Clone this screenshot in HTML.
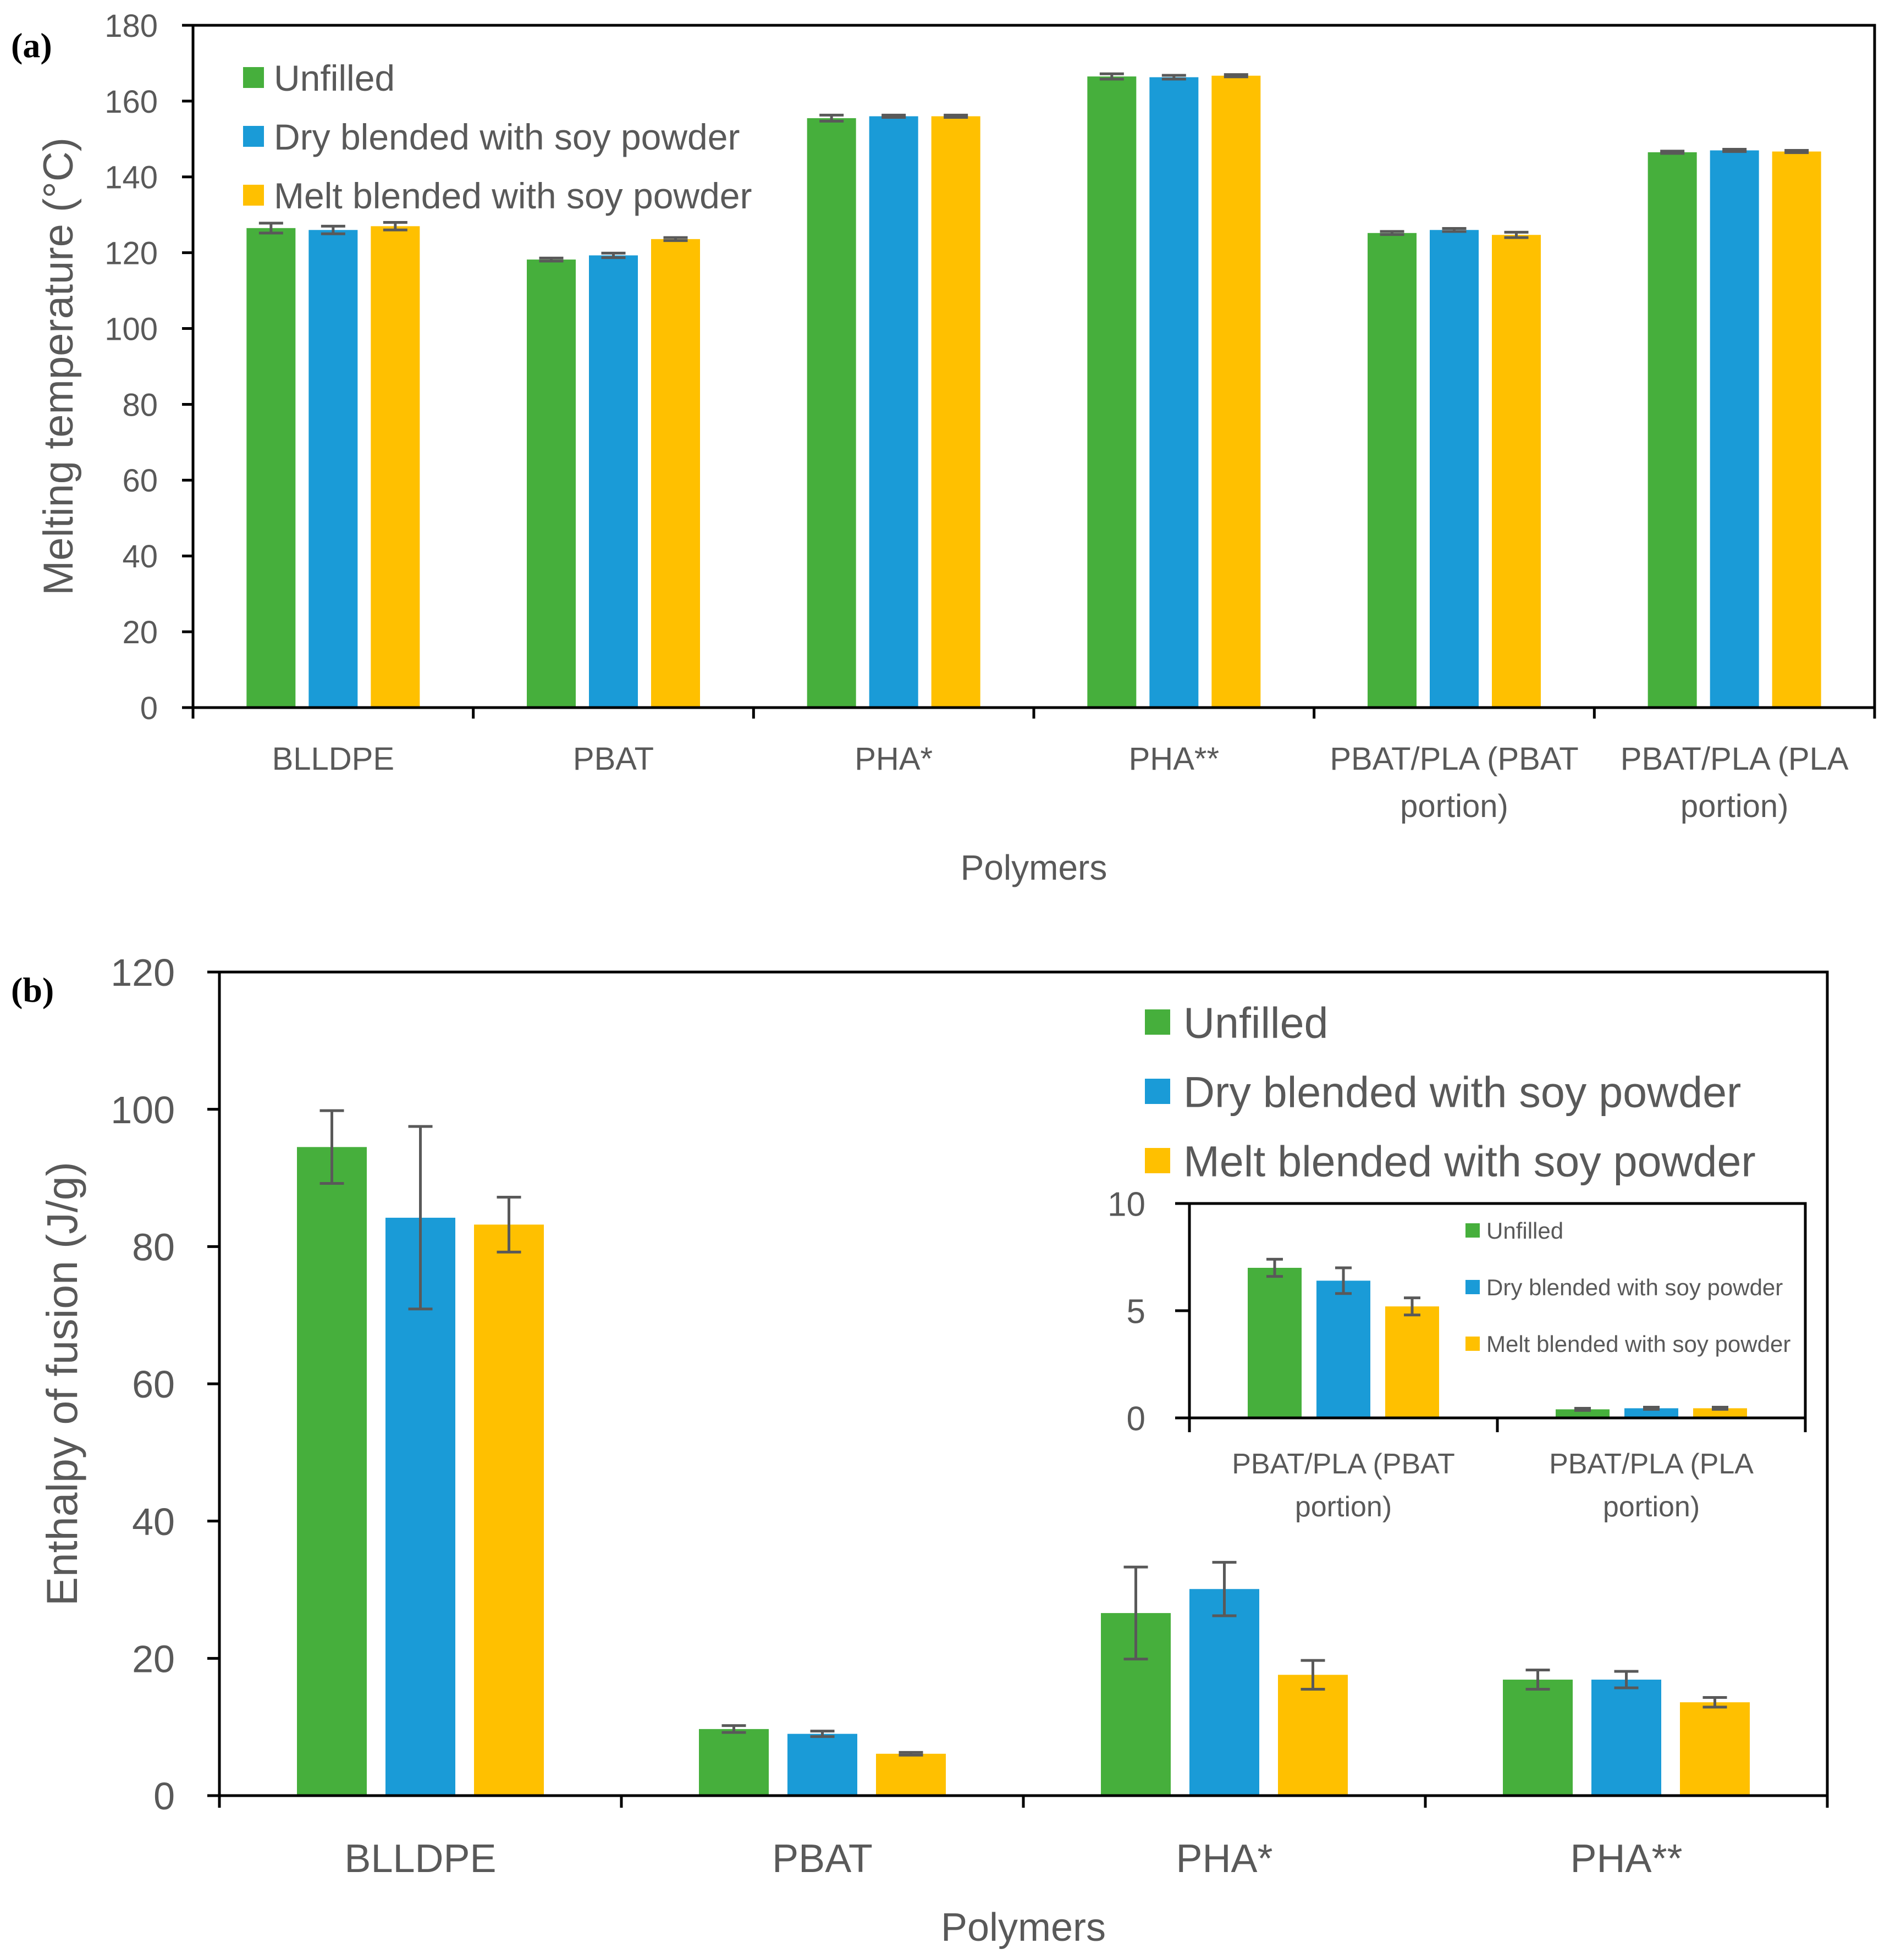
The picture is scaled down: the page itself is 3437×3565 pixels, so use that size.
<!DOCTYPE html>
<html><head><meta charset="utf-8"><style>
html,body{margin:0;padding:0;background:#fff}
svg{display:block}
text{font-family:"Liberation Sans",sans-serif;fill:#595959}
</style></head><body>
<svg id="fig" width="3437" height="3565" viewBox="0 0 3437 3565" xmlns="http://www.w3.org/2000/svg">
<rect width="3437" height="3565" fill="#fff"/>
<text x="20" y="104" style="font-family:'Liberation Serif',serif;font-weight:bold;font-size:64px;fill:#000">(a)</text>
<text x="20" y="1822" style="font-family:'Liberation Serif',serif;font-weight:bold;font-size:64px;fill:#000">(b)</text>
<g id="ga"></g><g id="gb"></g><g id="gi"></g>
</svg>
<script>
const seriesNames = ["Unfilled","Dry blended with soy powder","Melt blended with soy powder"];
const colors = ["#46AF3C","#1A9BD7","#FFC000"];
// Panel a
const catsA = [["BLLDPE"],["PBAT"],["PHA*"],["PHA**"],["PBAT/PLA  (PBAT","portion)"],["PBAT/PLA  (PLA","portion)"]];
const unfilledA = [126.5,118.2,155.5,166.5,125.2,146.5];
const dryA = [126.0,119.3,156.0,166.3,126.0,147.0];
const meltA = [127.0,123.6,156.0,166.7,124.7,146.7];
const errUnfilledA = [1.3,0.4,0.8,0.7,0.4,0.3];
const errDryA = [1.0,0.6,0.3,0.5,0.4,0.3];
const errMeltA = [1.0,0.4,0.3,0.3,0.7,0.3];
const ticksA = [0,20,40,60,80,100,120,140,160,180];
// Panel b
const catsB = ["BLLDPE","PBAT","PHA*","PHA**"];
const unfilledB = [94.5,9.7,26.6,16.9];
const dryB = [84.2,9.0,30.1,16.9];
const meltB = [83.2,6.1,17.6,13.6];
const errUnfilledB = [5.3,0.5,6.7,1.4];
const errDryB = [13.3,0.4,3.9,1.2];
const errMeltB = [4.0,0.2,2.1,0.7];
const ticksB = [0,20,40,60,80,100,120];
// Inset
const catsI = [["PBAT/PLA   (PBAT","portion)"],["PBAT/PLA   (PLA","portion)"]];
const unfilledI = [7.0,0.4];
const dryI = [6.4,0.45];
const meltI = [5.2,0.45];
const errUnfilledI = [0.4,0.05];
const errDryI = [0.6,0.05];
const errMeltI = [0.4,0.05];
const ticksI = [0,5,10];

const NS="http://www.w3.org/2000/svg";
function mk(parent,tag,attrs,txt){const e=document.createElementNS(NS,tag);for(const k in attrs)e.setAttribute(k,attrs[k]);if(txt!==undefined)e.textContent=txt;parent.appendChild(e);return e;}

function chart(g,o){
  const y=v=>o.y0-(v-o.min)/(o.max-o.min)*(o.y0-o.y1);
  const cw=(o.x1-o.x0)/o.cats.length;
  const series=[o.s0,o.s1,o.s2], errs=[o.e0,o.e1,o.e2];
  o.cats.forEach((c,i)=>{
    const cx=o.x0+cw*(i+0.5);
    for(let s=0;s<3;s++){
      const bx=cx+(s-1)*o.step-o.bw/2;
      const v=series[s][i];
      const r=mk(g,"rect",{x:bx,y:y(v),width:o.bw,height:o.y0-y(v),fill:colors[s]});
      
      
      const e=errs[s][i], bc=bx+o.bw/2;
      const eg=mk(g,"g",{stroke:"#595959","stroke-width":o.ew});
      
      
      mk(eg,"line",{x1:bc,x2:bc,y1:y(v+e),y2:y(v-e)});
      mk(eg,"line",{x1:bc-o.cap,x2:bc+o.cap,y1:y(v+e),y2:y(v+e)});
      mk(eg,"line",{x1:bc-o.cap,x2:bc+o.cap,y1:y(v-e),y2:y(v-e)});
    }
    const lines=Array.isArray(c)?c:[c];
    lines.forEach((t,k)=>{
      const tx=mk(g,"text",{x:cx,y:o.labY+k*o.labDy,"text-anchor":"middle","font-size":o.labFs},t);
      
      
    });
  });
  const ax=mk(g,"g",{stroke:"#000","stroke-width":o.lw,fill:"none"});
  
  
  mk(ax,"path",{d:`M${o.x0} ${o.y0} L${o.x0} ${o.y1} L${o.x1} ${o.y1}`+(o.frameRight?` L${o.x1} ${o.y0}`:"")});
  mk(ax,"line",{x1:o.x0-o.tl,x2:o.x1,y1:o.y0,y2:o.y0});
  for(let i=0;i<=o.cats.length;i++){const tx=o.x0+cw*i;mk(ax,"line",{x1:tx,x2:tx,y1:o.y0,y2:o.y0+o.tl});}
  o.ticks.forEach(t=>{
    mk(ax,"line",{x1:o.x0-o.tl,x2:o.x0,y1:y(t),y2:y(t)});
    const tx=mk(g,"text",{x:o.tickX,y:y(t)+o.tickFs*0.36,"text-anchor":"end","font-size":o.tickFs},t);
    
    
  });
  seriesNames.forEach((n,s)=>{
    const ly=o.legY+s*o.legDy;
    const r=mk(g,"rect",{x:o.legX,y:ly-o.legSq/2,width:o.legSq,height:o.legSq,fill:colors[s]});
    
    
    const t=mk(g,"text",{x:o.legX+o.legSq+o.legGap,y:ly+o.legFs*0.36,"font-size":o.legFs},n);
    
    
  });
  if(o.ytitle){
    const t=mk(g,"text",{x:0,y:0,transform:`translate(${o.ytX},${(o.y0+o.y1)/2}) rotate(-90)`,"text-anchor":"middle","font-size":o.ytFs},o.ytitle);
    
    
  }
  if(o.xtitle){
    const t=mk(g,"text",{x:(o.x0+o.x1)/2,y:o.xtY,"text-anchor":"middle","font-size":o.xtFs},o.xtitle);
    
    
  }
}
chart(document.getElementById('ga'),{id:'a',cats:catsA,s0:unfilledA,s1:dryA,s2:meltA,e0:errUnfilledA,e1:errDryA,e2:errMeltA,
 ticks:ticksA,min:0,max:180,x0:351,x1:3409,y0:1287,y1:46,bw:89,step:113,cap:22,ew:5,lw:5,tl:20,frameRight:true,
 tickX:287,tickFs:58,labY:1400,labDy:86,labFs:58,legX:442,legY:141,legDy:107,legSq:38,legGap:18,legFs:66,
 ytitle:"Melting temperature (°C)",ytX:132,ytFs:76,xtitle:"Polymers",xtY:1600,xtFs:64});
chart(document.getElementById('gb'),{id:'b',cats:catsB,s0:unfilledB,s1:dryB,s2:meltB,e0:errUnfilledB,e1:errDryB,e2:errMeltB,
 ticks:ticksB,min:0,max:120,x0:399,x1:3323,y0:3266,y1:1768,bw:127,step:161,cap:22,ew:5,lw:5,tl:22,frameRight:true,
 tickX:318,tickFs:70,labY:3405,labDy:0,labFs:72,legX:2082,legY:1859,legDy:126,legSq:46,legGap:24,legFs:79,
 ytitle:"Enthalpy of fusion (J/g)",ytX:140,ytFs:79,xtitle:"Polymers",xtY:3530,xtFs:72});
chart(document.getElementById('gi'),{id:'inset',cats:catsI,s0:unfilledI,s1:dryI,s2:meltI,e0:errUnfilledI,e1:errDryI,e2:errMeltI,
 ticks:ticksI,min:0,max:10,x0:2163,x1:3283,y0:2579,y1:2189,bw:98,step:125,cap:15,ew:5,lw:5,tl:26,frameRight:true,
 tickX:2083,tickFs:62,labY:2680,labDy:78,labFs:52,legX:2665,legY:2238,legDy:103,legSq:26,legGap:12,legFs:42});
</script>
</body></html>
